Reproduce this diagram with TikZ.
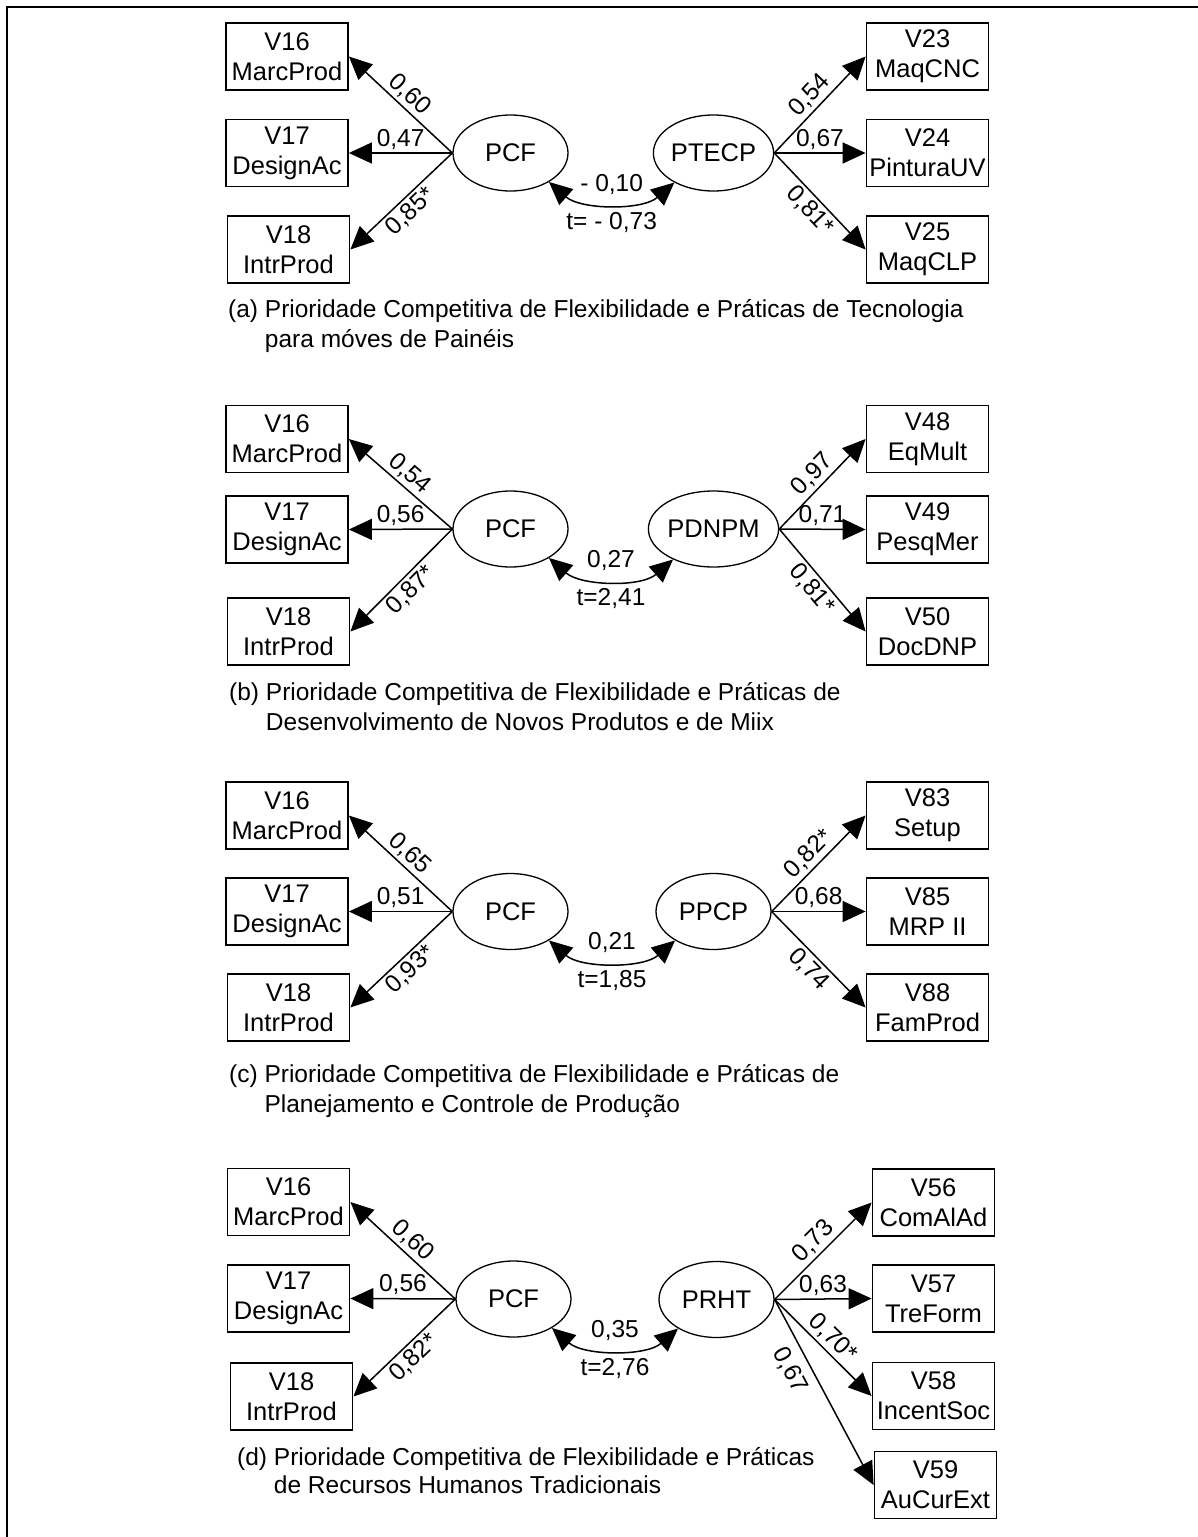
\documentclass[tikz,border=0pt]{standalone}
\usepackage{fontspec}
\setmainfont{Liberation Sans}
\usetikzlibrary{arrows.meta,shapes.geometric}
\newcommand{\bxfont}{\fontsize{25.5}{30}\selectfont}
\newcommand{\lbfont}{\fontsize{24.5}{29}\selectfont}
\begin{document}
\begin{tikzpicture}[x=1pt,y=-1pt,
 obs/.style={draw, line width=1.8pt, minimum width=122pt, minimum height=67pt, inner sep=0pt, align=center, font=\bxfont},
 lat/.style={draw, ellipse, line width=1.3pt, minimum width=115pt, minimum height=76pt, inner sep=0pt, font=\bxfont},
 load/.style={-{Triangle[length=23pt,width=21pt]}, line width=1.5pt},
 cov/.style={{Triangle[length=23pt,width=21pt]}-{Triangle[length=23pt,width=21pt]}, line width=1.5pt},
 lab/.style={font=\lbfont, inner sep=3pt, sloped, midway},
 clab/.style={font=\lbfont, inner sep=2pt, pos=0.5},
 captxt/.style={anchor=base west, inner sep=0pt, align=left}
]
\useasboundingbox (0,0) rectangle (1197,1537);
\draw[line width=2.5pt] (7,1540) -- (7,7) -- (1200,7);

% ---------- (a)
\node[obs] (a16) at (287,56.5) {V16\\MarcProd};
\node[obs] (a17) at (287,153) {V17\\DesignAc};
\node[obs] (a18) at (288.5,249.5) {V18\\IntrProd};
\node[lat] (apcf) at (510.5,153) {PCF};
\node[lat] (apt) at (713.5,153) {PTECP};
\node[obs] (a23) at (927.5,56.5) {V23\\MaqCNC};
\node[obs] (a24) at (927.5,153) {V24\\PinturaUV};
\node[obs] (a25) at (927.5,249.5) {V25\\MaqCLP};
\draw[load] (apcf.west) -- node[lab,above]{0,60} (a16.east);
\draw[load] (apcf.west) -- node[lab,above]{0,47} (a17.east);
\draw[load] (apcf.west) -- node[lab,below]{0,85*} (a18.east);
\draw[load] (apt.east) -- node[lab,above]{0,54} (a23.west);
\draw[load] (apt.east) -- node[lab,above]{0,67} (a24.west);
\draw[load] (apt.east) -- node[lab,below]{0,81*} (a25.west);
\draw[cov] (apcf.-37) .. controls +(32,28) and +(-32,28) .. (apt.-143)
  node[clab,above=6pt]{- 0,10} node[clab,below=6pt]{t= - 0,73};
\node[captxt] (capa) at (228,317) {\fontsize{24.5}{30}\selectfont (a) \begin{tabular}[t]{@{}l@{}}Prioridade Competitiva de Flexibilidade e Práticas de Tecnologia\\para móves de Painéis\end{tabular}};

% ---------- (b)
\node[obs] (b16) at (287,439) {V16\\MarcProd};
\node[obs] (b17) at (287,529.5) {V17\\DesignAc};
\node[obs] (b18) at (288.5,631.5) {V18\\IntrProd};
\node[lat] (bpcf) at (510.5,529) {PCF};
\node[lat] (bpd) at (713.5,529) {PDNPM};
\node[obs] (b48) at (927.5,439) {V48\\EqMult};
\node[obs] (b49) at (927.5,529.5) {V49\\PesqMer};
\node[obs] (b50) at (927.5,631.5) {V50\\DocDNP};
\draw[load] (bpcf.west) -- node[lab,above]{0,54} (b16.east);
\draw[load] (bpcf.west) -- node[lab,above]{0,56} (b17.east);
\draw[load] (bpcf.west) -- node[lab,below]{0,87*} (b18.east);
\draw[load] (bpd.east) -- node[lab,above]{0,97} (b48.west);
\draw[load] (bpd.east) -- node[lab,above]{0,71} (b49.west);
\draw[load] (bpd.east) -- node[lab,below]{0,81*} (b50.west);
\draw[cov] (bpcf.-37) .. controls +(32,28) and +(-32,28) .. (bpd.-143)
  node[clab,above=6pt]{0,27} node[clab,below=6pt]{t=2,41};
\node[captxt] (capb) at (229,700) {\fontsize{24.5}{30}\selectfont (b) \begin{tabular}[t]{@{}l@{}}Prioridade Competitiva de Flexibilidade e Práticas de\\Desenvolvimento de Novos Produtos e de Miix\end{tabular}};

% ---------- (c)
\node[obs] (c16) at (287,815.5) {V16\\MarcProd};
\node[obs] (c17) at (287,911.5) {V17\\DesignAc};
\node[obs] (c18) at (288.5,1007.5) {V18\\IntrProd};
\node[lat] (cpcf) at (510.5,911.5) {PCF};
\node[lat] (cpp) at (713.5,911.5) {PPCP};
\node[obs] (c83) at (927.5,815.5) {V83\\Setup};
\node[obs] (c85) at (927.5,911.5) {V85\\MRP II};
\node[obs] (c88) at (927.5,1007.5) {V88\\FamProd};
\draw[load] (cpcf.west) -- node[lab,above]{0,65} (c16.east);
\draw[load] (cpcf.west) -- node[lab,above]{0,51} (c17.east);
\draw[load] (cpcf.west) -- node[lab,below]{0,93*} (c18.east);
\draw[load] (cpp.east) -- node[lab,above]{0,82*} (c83.west);
\draw[load] (cpp.east) -- node[lab,above]{0,68} (c85.west);
\draw[load] (cpp.east) -- node[lab,below]{0,74} (c88.west);
\draw[cov] (cpcf.-37) .. controls +(32,28) and +(-32,28) .. (cpp.-143)
  node[clab,above=6pt]{0,21} node[clab,below=6pt]{t=1,85};
\node[captxt] (capc) at (229,1082) {\fontsize{24.5}{30}\selectfont (c) \begin{tabular}[t]{@{}l@{}}Prioridade Competitiva de Flexibilidade e Práticas de\\Planejamento e Controle de Produção\end{tabular}};

% ---------- (d)
\node[obs] (d16) at (288.5,1202) {V16\\MarcProd};
\node[obs] (d17) at (288.5,1298.5) {V17\\DesignAc};
\node[obs] (d18) at (291.5,1396.5) {V18\\IntrProd};
\node[lat] (dpcf) at (513.5,1299) {PCF};
\node[lat] (dpr) at (716.5,1299.5) {PRHT};
\node[obs] (d56) at (933.5,1202.5) {V56\\ComAlAd};
\node[obs] (d57) at (933.5,1298.5) {V57\\TreForm};
\node[obs] (d58) at (933.5,1396) {V58\\IncentSoc};
\node[obs] (d59) at (935.5,1485) {V59\\AuCurExt};
\draw[load] (dpcf.west) -- node[lab,above]{0,60} (d16.east);
\draw[load] (dpcf.west) -- node[lab,above]{0,56} (d17.east);
\draw[load] (dpcf.west) -- node[lab,below]{0,82*} (d18.east);
\draw[load] (dpr.east) -- node[lab,above]{0,73} (d56.west);
\draw[load] (dpr.east) -- node[lab,above]{0,63} (d57.west);
\draw[load] (dpr.east) -- node[lab,above]{0,70*} (d58.west);
\draw[load] (dpr.east) -- node[lab,below=6pt,pos=0.33]{0,67} (d59.west);
\draw[cov] (dpcf.-37) .. controls +(32,28) and +(-32,28) .. (dpr.-143)
  node[clab,above=6pt]{0,35} node[clab,below=6pt]{t=2,76};
\node[captxt] (capd) at (237,1465) {\fontsize{24.5}{28}\selectfont (d) \begin{tabular}[t]{@{}l@{}}Prioridade Competitiva de Flexibilidade e Práticas\\de Recursos Humanos Tradicionais\end{tabular}};
\end{tikzpicture}
\end{document}
